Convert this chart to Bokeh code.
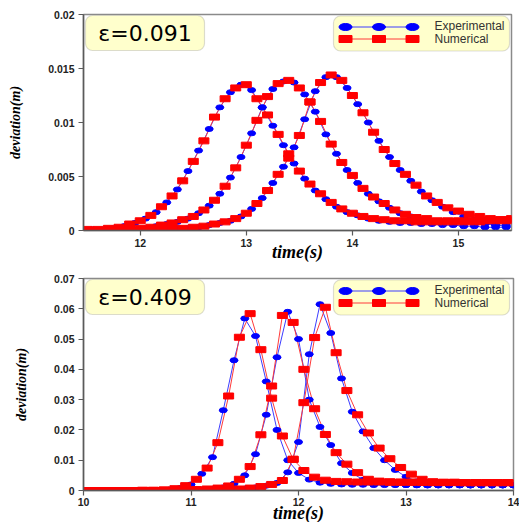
from bokeh.plotting import figure
from bokeh.layouts import column
from bokeh.models import Range1d, FixedTicker, BoxAnnotation, Label
from bokeh.embed import file_html
from bokeh.resources import INLINE

# ---------------- data : upper panel (eps = 0.091) ----------------
top_eps = "ε=0.091"
top_x_ticks = [12, 13, 14, 15]
top_y_ticks = [0, 0.005, 0.01, 0.015, 0.02]
top_y_labels = ["0", "0.005", "0.01", "0.015", "0.02"]

top_t_num = [11.5, 11.6, 11.7, 11.8, 11.9, 12.0, 12.1, 12.2, 12.3, 12.4,
             12.5, 12.6, 12.7, 12.8, 12.9, 13.0, 13.1, 13.2, 13.3, 13.4,
             13.5, 13.6, 13.7, 13.8, 13.9, 14.0, 14.1, 14.2, 14.3, 14.4,
             14.5, 14.6, 14.7, 14.8, 14.9, 15.0, 15.1, 15.2, 15.3, 15.4,
             15.5]
top_num_1 = [0.0001, 0.0001, 0.0002, 0.0003, 0.0006, 0.0009, 0.0014, 0.0022, 0.0032, 0.0046,
             0.0064, 0.0083, 0.0105, 0.0122, 0.0132, 0.0135, 0.0122, 0.0107, 0.0089, 0.0071,
             0.0055, 0.0043, 0.0034, 0.0026, 0.0020, 0.0016, 0.0013, 0.0011, 0.0010, 0.0009,
             0.0009, 0.0008, 0.0008, 0.0008, 0.0008, 0.0008, 0.0008, 0.0008, 0.0009, 0.0009,
             0.0009]
top_num_2 = [0.0000, 0.0000, 0.0000, 0.0001, 0.0001, 0.0002, 0.0003, 0.0005, 0.0007, 0.0010,
             0.0013, 0.0019, 0.0028, 0.0041, 0.0058, 0.0079, 0.0102, 0.0124, 0.0136, 0.0139,
             0.0132, 0.0119, 0.0101, 0.0080, 0.0063, 0.0051, 0.0039, 0.0031, 0.0025, 0.0019,
             0.0015, 0.0012, 0.0011, 0.0009, 0.0009, 0.0009, 0.0009, 0.0009, 0.0010, 0.0010,
             0.0011]
top_num_3 = [0.0000, 0.0000, 0.0000, 0.0000, 0.0000, 0.0000, 0.0001, 0.0001, 0.0002, 0.0002,
             0.0003, 0.0004, 0.0006, 0.0008, 0.0011, 0.0016, 0.0025, 0.0037, 0.0052, 0.0067,
             0.0088, 0.0119, 0.0137, 0.0144, 0.0139, 0.0125, 0.0109, 0.0091, 0.0075, 0.0062,
             0.0052, 0.0042, 0.0032, 0.0026, 0.0021, 0.0018, 0.0015, 0.0013, 0.0011, 0.0010,
             0.0010]

top_t_exp = [11.55, 11.65, 11.75, 11.85, 11.95, 12.05, 12.15, 12.25, 12.35, 12.45,
             12.55, 12.65, 12.75, 12.85, 12.95, 13.05, 13.15, 13.25, 13.35, 13.45,
             13.55, 13.65, 13.75, 13.85, 13.95, 14.05, 14.15, 14.25, 14.35, 14.45,
             14.55, 14.65, 14.75, 14.85, 14.95, 15.05, 15.15, 15.25, 15.35, 15.45]
top_exp_1 = [0.0001, 0.0001, 0.0002, 0.0004, 0.0007, 0.0011, 0.0017, 0.0026, 0.0038, 0.0055,
             0.0074, 0.0094, 0.0114, 0.0128, 0.0135, 0.0130, 0.0114, 0.0097, 0.0079, 0.0062,
             0.0048, 0.0037, 0.0029, 0.0022, 0.0017, 0.0014, 0.0011, 0.0009, 0.0008, 0.0007,
             0.0007, 0.0006, 0.0006, 0.0005, 0.0005, 0.0004, 0.0004, 0.0003, 0.0003, 0.0003]
top_exp_2 = [0.0000, 0.0000, 0.0000, 0.0001, 0.0001, 0.0002, 0.0004, 0.0006, 0.0008, 0.0011,
             0.0016, 0.0023, 0.0034, 0.0049, 0.0068, 0.0090, 0.0114, 0.0131, 0.0138, 0.0137,
             0.0126, 0.0110, 0.0089, 0.0071, 0.0056, 0.0044, 0.0034, 0.0027, 0.0021, 0.0016,
             0.0013, 0.0010, 0.0009, 0.0008, 0.0007, 0.0007, 0.0006, 0.0006, 0.0005, 0.0005]
top_exp_3 = [0.0000, 0.0000, 0.0000, 0.0000, 0.0000, 0.0000, 0.0001, 0.0001, 0.0002, 0.0002,
             0.0003, 0.0005, 0.0007, 0.0009, 0.0013, 0.0020, 0.0030, 0.0044, 0.0059, 0.0077,
             0.0103, 0.0129, 0.0142, 0.0142, 0.0132, 0.0117, 0.0100, 0.0083, 0.0068, 0.0056,
             0.0046, 0.0036, 0.0028, 0.0022, 0.0017, 0.0013, 0.0010, 0.0007, 0.0005, 0.0004]

# ---------------- data : lower panel (eps = 0.409) ----------------
bot_eps = "ε=0.409"
bot_x_ticks = [10, 11, 12, 13, 14]
bot_y_ticks = [0, 0.01, 0.02, 0.03, 0.04, 0.05, 0.06, 0.07]
bot_y_labels = ["0", "0.01", "0.02", "0.03", "0.04", "0.05", "0.06", "0.07"]

bot_t_num = [10.05, 10.15, 10.25, 10.35, 10.45, 10.55, 10.65, 10.75, 10.85, 10.95,
             11.05, 11.15, 11.25, 11.35, 11.45, 11.55, 11.65, 11.75, 11.85, 11.95,
             12.05, 12.15, 12.25, 12.35, 12.45, 12.55, 12.65, 12.75, 12.85, 12.95,
             13.05, 13.15, 13.25, 13.35, 13.45, 13.55, 13.65, 13.75, 13.85, 13.95]
bot_num_1 = [0.0000, 0.0000, 0.0000, 0.0000, 0.0000, 0.0001, 0.0001, 0.0002, 0.0006, 0.0016,
             0.0037, 0.0074, 0.0158, 0.0312, 0.0506, 0.0584, 0.0465, 0.0305, 0.0180, 0.0103,
             0.0066, 0.0044, 0.0034, 0.0030, 0.0029, 0.0028, 0.0028, 0.0028, 0.0027, 0.0027,
             0.0027, 0.0027, 0.0026, 0.0026, 0.0026, 0.0026, 0.0026, 0.0026, 0.0026, 0.0026]
bot_num_2 = [0.0000, 0.0000, 0.0000, 0.0000, 0.0000, 0.0000, 0.0000, 0.0001, 0.0001, 0.0002,
             0.0003, 0.0005, 0.0008, 0.0015, 0.0037, 0.0079, 0.0184, 0.0345, 0.0578, 0.0555,
             0.0400, 0.0270, 0.0185, 0.0125, 0.0087, 0.0059, 0.0037, 0.0031, 0.0029, 0.0028,
             0.0028, 0.0027, 0.0027, 0.0027, 0.0027, 0.0026, 0.0026, 0.0026, 0.0026, 0.0026]
bot_num_3 = [0.0000, 0.0000, 0.0000, 0.0000, 0.0000, 0.0000, 0.0000, 0.0000, 0.0000, 0.0000,
             0.0001, 0.0001, 0.0002, 0.0003, 0.0005, 0.0008, 0.0013, 0.0020, 0.0033, 0.0103,
             0.0290, 0.0505, 0.0605, 0.0455, 0.0330, 0.0250, 0.0190, 0.0140, 0.0105, 0.0076,
             0.0054, 0.0037, 0.0029, 0.0027, 0.0027, 0.0026, 0.0026, 0.0026, 0.0026, 0.0026]

bot_t_exp = [10.0, 10.1, 10.2, 10.3, 10.4, 10.5, 10.6, 10.7, 10.8, 10.9,
             11.0, 11.1, 11.2, 11.3, 11.4, 11.5, 11.6, 11.7, 11.8, 11.9,
             12.0, 12.1, 12.2, 12.3, 12.4, 12.5, 12.6, 12.7, 12.8, 12.9,
             13.0, 13.1, 13.2, 13.3, 13.4, 13.5, 13.6, 13.7, 13.8, 13.9,
             14.0]
bot_exp_1 = [0.0000, 0.0000, 0.0000, 0.0000, 0.0000, 0.0000, 0.0001, 0.0001, 0.0003, 0.0008,
             0.0020, 0.0055, 0.0110, 0.0265, 0.0430, 0.0568, 0.0510, 0.0360, 0.0200, 0.0100,
             0.0058, 0.0036, 0.0026, 0.0022, 0.0020, 0.0019, 0.0019, 0.0018, 0.0018, 0.0018,
             0.0018, 0.0017, 0.0017, 0.0017, 0.0017, 0.0017, 0.0017, 0.0017, 0.0017, 0.0017,
             0.0017]
bot_exp_2 = [0.0000, 0.0000, 0.0000, 0.0000, 0.0000, 0.0000, 0.0000, 0.0000, 0.0001, 0.0001,
             0.0002, 0.0003, 0.0005, 0.0010, 0.0022, 0.0050, 0.0120, 0.0250, 0.0440, 0.0590,
             0.0500, 0.0300, 0.0210, 0.0150, 0.0090, 0.0058, 0.0035, 0.0025, 0.0021, 0.0019,
             0.0018, 0.0018, 0.0017, 0.0017, 0.0017, 0.0017, 0.0017, 0.0017, 0.0017, 0.0017,
             0.0017]
bot_exp_3 = [0.0000, 0.0000, 0.0000, 0.0000, 0.0000, 0.0000, 0.0000, 0.0000, 0.0000, 0.0000,
             0.0001, 0.0001, 0.0002, 0.0003, 0.0004, 0.0006, 0.0010, 0.0016, 0.0025, 0.0060,
             0.0160, 0.0450, 0.0615, 0.0520, 0.0370, 0.0260, 0.0195, 0.0140, 0.0100, 0.0068,
             0.0045, 0.0030, 0.0022, 0.0019, 0.0018, 0.0018, 0.0017, 0.0017, 0.0017, 0.0017,
             0.0017]

legend_labels = ["Experimental", "Numerical"]
x_title = "time(s)"
y_title = "deviation(m)"

for a in (top_num_1, top_num_2, top_num_3):
    assert len(a) == len(top_t_num)
for a in (top_exp_1, top_exp_2, top_exp_3):
    assert len(a) == len(top_t_exp)
for a in (bot_num_1, bot_num_2, bot_num_3):
    assert len(a) == len(bot_t_num)
for a in (bot_exp_1, bot_exp_2, bot_exp_3):
    assert len(a) == len(bot_t_exp)

# ---------------- styles ----------------
EXP_FILL = "#0000ff"
EXP_LINE = "#3c3cff"
NUM_FILL = "#ff0000"
NUM_LINE = "#ff3a3a"
BOX_FILL = "#ffffcc"
BOX_LINE = "#8a8a8a"


def make_panel(x_range, y_range, x_ticks, y_ticks, y_labels,
               t_num, nums, t_exp, exps, eps_text,
               fw, fh, bl, br, bt, bb):
    p = figure(frame_width=fw, frame_height=fh,
               x_range=Range1d(*x_range), y_range=Range1d(*y_range),
               output_backend="svg", toolbar_location=None,
               min_border_left=bl, min_border_right=br,
               min_border_top=bt, min_border_bottom=bb,
               background_fill_color="white", border_fill_color="white")
    p.grid.visible = False
    p.outline_line_color = BOX_LINE
    p.outline_line_width = 1.5

    for ax in (p.xaxis[0], p.yaxis[0]):
        ax.axis_line_color = "#5a5a5a"
        ax.axis_line_width = 1.5
        ax.major_tick_line_color = "#5a5a5a"
        ax.major_tick_line_width = 1.2
        ax.major_tick_in = 0
        ax.major_tick_out = 5
        ax.minor_tick_in = 0
        ax.minor_tick_out = 0
        ax.major_label_text_font = "Liberation Sans"
        ax.major_label_text_font_style = "bold"
        ax.major_label_text_font_size = "10.5px"
        ax.major_label_text_color = "#222222"
        ax.axis_label_text_font = "Liberation Serif"
        ax.axis_label_text_font_style = "bold italic"
        ax.axis_label_text_color = "#000000"

    p.xaxis.ticker = FixedTicker(ticks=x_ticks)
    p.xaxis.major_label_standoff = 3
    p.xaxis.axis_label = x_title
    p.xaxis.axis_label_text_font_size = "18px"
    p.xaxis.axis_label_standoff = -8

    p.yaxis.ticker = FixedTicker(ticks=y_ticks)
    p.yaxis.major_label_overrides = {t: s for t, s in zip(y_ticks, y_labels)}
    p.yaxis.major_label_standoff = 4
    p.yaxis.axis_label = y_title
    p.yaxis.axis_label_text_font_size = "14px"

    # data curves
    for ys in exps:
        p.line(t_exp, ys, line_color=EXP_LINE, line_width=1)
    for ys in nums:
        p.line(t_num, ys, line_color=NUM_LINE, line_width=1)
    for ys in exps:
        p.ellipse(x=t_exp, y=ys, width=8, height=5,
                  width_units="screen", height_units="screen",
                  fill_color=EXP_FILL, line_color=EXP_FILL)
    for ys in nums:
        p.rect(x=t_num, y=ys, width=10, height=6,
               width_units="screen", height_units="screen",
               fill_color=NUM_FILL, line_color=NUM_FILL)

    # pixel coordinate system of the frame for the decorations
    p.extra_x_ranges = {"px": Range1d(0, fw)}
    p.extra_y_ranges = {"py": Range1d(0, fh)}

    def py(off):
        return fh - off

    # epsilon box
    p.add_layout(BoxAnnotation(left=2, right=121, top=py(1), bottom=py(36),
                               x_range_name="px", y_range_name="py",
                               fill_color=BOX_FILL, fill_alpha=1,
                               line_color=BOX_LINE, line_width=1.2,
                               border_radius=7))
    p.add_layout(Label(x=61.5, y=py(18.5), text=eps_text,
                       x_range_name="px", y_range_name="py",
                       text_align="center", text_baseline="middle",
                       text_font="DejaVu Sans", text_font_size="22px",
                       text_color="#000000"))

    # legend box
    lx0, lx1, lt, lb = 250, 426, 1.5, 36.5
    p.add_layout(BoxAnnotation(left=lx0, right=lx1, top=py(lt), bottom=py(lb),
                               x_range_name="px", y_range_name="py",
                               fill_color=BOX_FILL, fill_alpha=1,
                               line_color=BOX_LINE, line_width=1.2,
                               border_radius=7))
    mx = [262, 295.5, 329]
    row_exp, row_num = 12.5, 24.5
    p.line([mx[0], mx[-1]], [py(row_exp)] * 2, x_range_name="px", y_range_name="py",
           line_color=EXP_LINE, line_width=1, level="overlay")
    p.ellipse(x=mx, y=[py(row_exp)] * 3, width=13, height=7,
              width_units="screen", height_units="screen",
              x_range_name="px", y_range_name="py",
              fill_color=EXP_FILL, line_color=EXP_FILL, level="overlay")
    p.line([mx[0], mx[-1]], [py(row_num)] * 2, x_range_name="px", y_range_name="py",
           line_color=NUM_LINE, line_width=1, level="overlay")
    p.rect(x=mx, y=[py(row_num)] * 3, width=13, height=7,
           width_units="screen", height_units="screen",
           x_range_name="px", y_range_name="py",
           fill_color=NUM_FILL, line_color=NUM_FILL, level="overlay")
    for txt, row in zip(legend_labels, (row_exp - 1, row_num)):
        p.add_layout(Label(x=351, y=py(row), text=txt,
                           x_range_name="px", y_range_name="py",
                           text_align="left", text_baseline="middle",
                           text_font="Liberation Sans", text_font_size="12px",
                           text_color="#333333", level="overlay"))
    return p


top = make_panel((11.465, 15.5), (0, 0.02), top_x_ticks, top_y_ticks, top_y_labels,
                 top_t_num, [top_num_1, top_num_2, top_num_3],
                 top_t_exp, [top_exp_1, top_exp_2, top_exp_3], top_eps,
                 fw=428, fh=216, bl=83, br=8, bt=14, bb=40)
top.yaxis.axis_label_standoff = 22

bot = make_panel((10, 14), (0, 0.07), bot_x_ticks, bot_y_ticks, bot_y_labels,
                 bot_t_num, [bot_num_1, bot_num_2, bot_num_3],
                 bot_t_exp, [bot_exp_1, bot_exp_2, bot_exp_3], bot_eps,
                 fw=430, fh=212, bl=77, br=12, bt=8, bb=20)
bot.yaxis.axis_label_standoff = 22
bot.xaxis.major_label_standoff = 2
bot.xaxis.axis_label_standoff = -6

layout = column(top, bot, spacing=0)
open("out.html", "w").write(file_html(layout, INLINE))
